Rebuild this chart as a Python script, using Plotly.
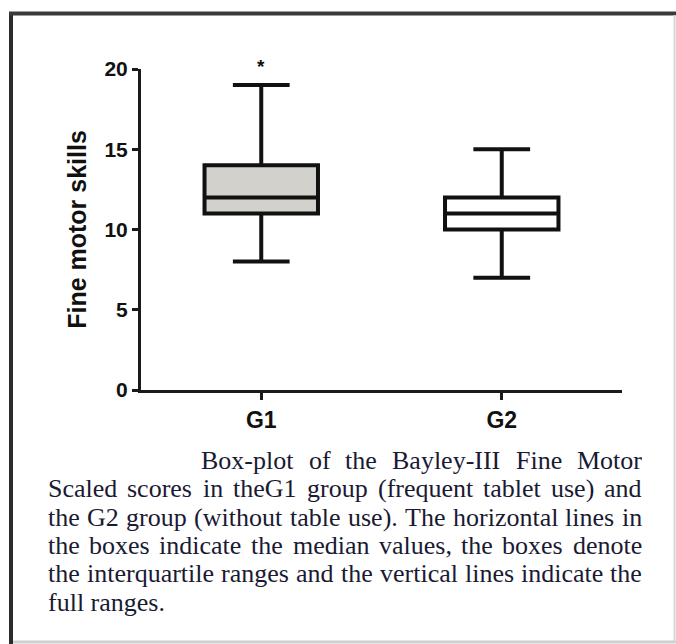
import plotly.graph_objects as go

# ---- data ----
groups = ["G1", "G2"]
mins = [8, 7]
q1s = [11, 10]
medians = [12, 11]
q3s = [14, 12]
maxs = [19, 15]
fills = ["#d3d1cb", "#ffffff"]
marks = ["*", ""]
y_ticks = [0, 5, 10, 15, 20]
y_title = "Fine motor skills"

caption_lines = [
    "Box-plot of the Bayley-III Fine Motor",
    "Scaled scores in theG1 group (frequent tablet use) and",
    "the G2 group (without table use). The horizontal lines in",
    "the boxes indicate the median values, the boxes denote",
    "the interquartile ranges and the vertical lines indicate the",
    "full ranges.",
]

W, H = 676, 644
PX_L, PX_R, PX_T, PX_B = 141, 622, 69, 390


def px(x):
    return x / W


def py(y):
    return 1 - y / H


fig = go.Figure()
for i, g in enumerate(groups):
    fig.add_trace(go.Box(
        x=[g], q1=[q1s[i]], median=[medians[i]], q3=[q3s[i]],
        lowerfence=[mins[i]], upperfence=[maxs[i]],
        fillcolor=fills[i], line=dict(color="#111111", width=4),
        whiskerwidth=0.5, boxpoints=False, showlegend=False,
        hoverinfo="skip",
    ))

annotations = []
for i, g in enumerate(groups):
    if marks[i]:
        annotations.append(dict(
            x=g, y=py(66), xref="x", yref="paper", text=marks[i],
            showarrow=False, xanchor="center", yanchor="middle",
            font=dict(family="Liberation Sans, Arial", size=19,
                      color="#111111", weight="bold"),
        ))

# ---- caption, justified like the source (Times metrics) ----
TW = {
    'a': 444, 'b': 500, 'c': 444, 'd': 500, 'e': 444, 'f': 333, 'g': 500,
    'h': 500, 'i': 278, 'j': 278, 'k': 500, 'l': 278, 'm': 778, 'n': 500,
    'o': 500, 'p': 500, 'q': 500, 'r': 333, 's': 389, 't': 278, 'u': 500,
    'v': 500, 'w': 722, 'x': 500, 'y': 500, 'z': 444,
    'A': 722, 'B': 667, 'C': 667, 'D': 722, 'E': 611, 'F': 556, 'G': 722,
    'H': 722, 'I': 333, 'J': 389, 'K': 722, 'L': 611, 'M': 889, 'N': 722,
    'O': 722, 'P': 556, 'Q': 722, 'R': 667, 'S': 556, 'T': 611, 'U': 722,
    'V': 722, 'W': 944, 'X': 722, 'Y': 722, 'Z': 611,
    '-': 333, '(': 333, ')': 333, '.': 250, ',': 250, ' ': 250,
}
FS = 26
CAP_FONT = dict(family="Liberation Serif, Times New Roman", size=FS,
                color="#1a1a33")


def wwidth(word):
    return sum(TW.get(c, 500) for c in word) * FS / 1000.0


LEFT, RIGHT, FIRST_LEFT = 47, 641, 200
BASE0, LSTEP = 469, 28.4
for li, line in enumerate(caption_lines):
    base = BASE0 + li * LSTEP
    ymid = base - 0.3375 * FS
    words = line.split(" ")
    left = FIRST_LEFT if li == 0 else LEFT
    last = li == len(caption_lines) - 1
    if last:
        annotations.append(dict(
            x=px(left - 1), y=py(ymid), xref="paper", yref="paper",
            text=line, showarrow=False, xanchor="left", yanchor="middle",
            font=CAP_FONT))
        continue
    widths = [wwidth(w) for w in words]
    gap = (RIGHT - left - sum(widths)) / (len(words) - 1)
    xcur = left
    for w, wd in zip(words, widths):
        annotations.append(dict(
            x=px(xcur - 1), y=py(ymid), xref="paper", yref="paper",
            text=w, showarrow=False, xanchor="left", yanchor="middle",
            font=CAP_FONT))
        xcur += wd + gap

# ---- frame ----
shapes = [
    dict(type="line", xref="paper", yref="paper", x0=px(11), x1=px(11),
         y0=py(12), y1=py(644), line=dict(color="#2b2b2b", width=4)),
    dict(type="line", xref="paper", yref="paper", x0=px(9), x1=px(676),
         y0=py(13.5), y1=py(13.5), line=dict(color="#3a3a3a", width=4)),
    dict(type="line", xref="paper", yref="paper", x0=px(674.5), x1=px(674.5),
         y0=py(15), y1=py(642), line=dict(color="#d6d6d6", width=2)),
    dict(type="line", xref="paper", yref="paper", x0=px(13), x1=px(676),
         y0=py(642), y1=py(642), line=dict(color="#d0d0d0", width=3)),
]

axis_font = dict(family="Liberation Sans, Arial", color="#111111",
                 weight="bold")

fig.update_layout(
    width=W, height=H,
    margin=dict(l=0, r=0, t=0, b=0),
    paper_bgcolor="white", plot_bgcolor="white",
    showlegend=False,
    boxgap=0.326,
    xaxis=dict(
        domain=[PX_L / W, PX_R / W], range=[-0.5, 1.5],
        type="category", categoryorder="array", categoryarray=groups,
        showline=True, linecolor="#1a1a1a", linewidth=3,
        ticks="outside", ticklen=7, tickwidth=2.5, tickcolor="#1a1a1a",
        showgrid=False, zeroline=False, automargin=False,
        tickfont=dict(size=23, **axis_font),
    ),
    yaxis=dict(
        domain=[1 - PX_B / H, 1 - PX_T / H], range=[0, 20],
        tickvals=y_ticks,
        showline=True, linecolor="#1a1a1a", linewidth=3,
        ticks="outside", ticklen=6, tickwidth=2.5, tickcolor="#1a1a1a",
        showgrid=False, zeroline=False, automargin=False,
        tickfont=dict(size=21, **axis_font),
        title=dict(text=y_title, standoff=11, font=dict(size=25, **axis_font)),
    ),
    annotations=annotations,
    shapes=shapes,
)

fig.write_html("out.html",
               config={"displayModeBar": False},
               post_script="document.body.style.margin='0';document.body.style.overflow='hidden';")
